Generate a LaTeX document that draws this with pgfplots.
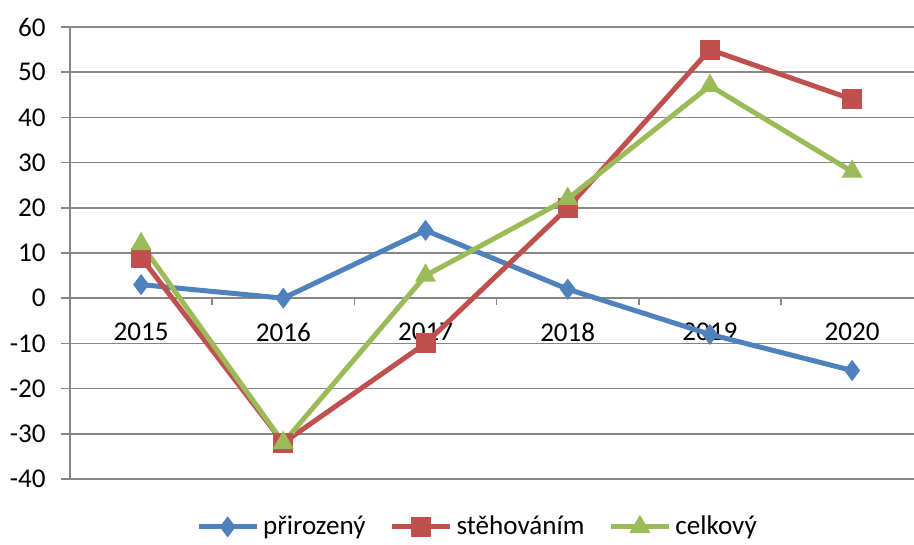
\documentclass[border=0pt]{standalone}
\usepackage{fontspec}
\setmainfont{Carlito}
\usepackage{pgfplots}
\pgfplotsset{compat=1.18}
\definecolor{cblue}{RGB}{79,129,189}
\definecolor{cred}{RGB}{192,80,77}
\definecolor{cgreen}{RGB}{155,187,89}
\definecolor{cgrid}{RGB}{134,134,134}
\begin{document}
\begin{tikzpicture}
\begin{axis}[
  at={(35bp,33bp)}, anchor=south west,
  scale only axis, width=422bp, height=226bp,
  font=\fontsize{13.6}{16}\selectfont,
  xmin=-0.5, xmax=5.435, ymin=-40, ymax=60,
  axis x line*=middle, axis y line*=left,
  axis line style={cgrid, line width=0.8bp},
  ymajorgrids, grid style={cgrid, line width=0.8bp},
  ytick={-40,-30,...,60},
  yticklabels={-40,-30,-20,-10,0,10,20,30,40,50,60},
  xtick={0,1,2,3,4,5},
  xticklabels={2015,2016,2017,2018,2019,2020},
  minor xtick={0.5,1.5,2.5,3.5,4.5},
  major x tick style={draw=none},
  minor x tick style={cgrid, line width=0.8bp},
  y tick style={cgrid, line width=0.8bp},
  tick align=outside,
  major tick length=4.5bp, minor tick length=3.5bp,
  yticklabel style={anchor=east, xshift=-4.2bp},
  xticklabel style={anchor=north, yshift=-4.5bp},
  legend style={at={(0.484,-0.106)}, anchor=center, draw=none, fill=none,
    legend columns=3, font=\fontsize{13.6}{16}\selectfont,
    /tikz/every odd column/.append style={column sep=0bp},
    /tikz/every even column/.append style={column sep=10bp}},
  legend image code/.code={
    \draw[mark repeat=2, mark phase=2] plot coordinates {(0bp,0bp) (14.5bp,0bp) (29bp,0bp)};
  },
  every axis plot/.append style={line width=2.5bp, mark options={solid, line width=0.6bp}},
]
\addplot[color=cblue, mark=diamond*, mark size=4.8bp] coordinates {(0,3) (1,0) (2,15) (3,2) (4,-8) (5,-16)};
\addlegendentry{přirozený}
\addplot[color=cred, mark=square*, mark size=4.7bp] coordinates {(0,9) (1,-32) (2,-10) (3,20) (4,55) (5,44)};
\addlegendentry{stěhováním}
\addplot[color=cgreen, mark=triangle*, mark size=5.5bp] coordinates {(0,12) (1,-32) (2,5) (3,22) (4,47) (5,28)};
\addlegendentry{celkový}
\end{axis}
\pgfresetboundingbox
\path[use as bounding box] (0,0) rectangle (457bp,272.5bp);
\end{tikzpicture}
\end{document}
